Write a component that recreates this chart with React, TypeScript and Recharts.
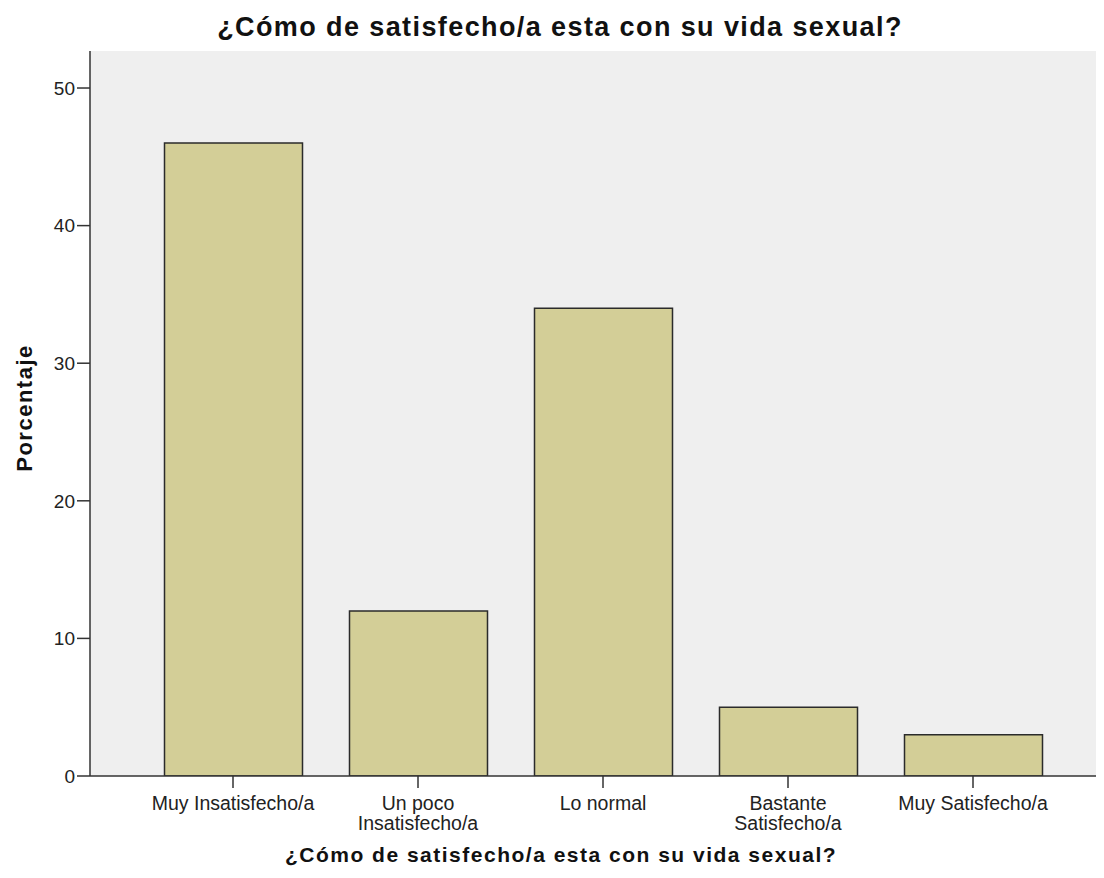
import { BarChart, Bar, XAxis, YAxis, CartesianGrid } from "recharts";

const categories = [
  "Muy Insatisfecho/a",
  "Un poco\nInsatisfecho/a",
  "Lo normal",
  "Bastante\nSatisfecho/a",
  "Muy Satisfecho/a",
];
const percentages = [46, 12, 34, 5, 3];
const yTicks = [0, 10, 20, 30, 40, 50];

const title = "¿Cómo de satisfecho/a esta con su vida sexual?";
const yTitle = "Porcentaje";

const data = categories.map((c, i) => ({ name: c, value: percentages[i] }));

const FONT = "'Liberation Sans', Arial, sans-serif";

function CategoryTick(props: any) {
  const { x, y, payload } = props;
  const lines = String(payload.value).split("\n");
  return (
    <text
      x={x}
      y={y}
      textAnchor="middle"
      fill="#222"
      fontSize={19.5}
      fontFamily={FONT}
    >
      {lines.map((line: string, i: number) => (
        <tspan key={i} x={x} dy={20}>
          {line}
        </tspan>
      ))}
    </text>
  );
}

export default function App() {
  return (
    <div style={{ margin: -8, position: "relative", width: 1104, height: 878, background: "#fff" }}>
      <div
        style={{
          position: "absolute",
          left: 0,
          width: 1120,
          top: 12,
          textAlign: "center",
          fontFamily: FONT,
          fontWeight: "bold",
          fontSize: 27,
          letterSpacing: 1.4,
          color: "#111",
        }}
      >
        {title}
      </div>
      <BarChart
        width={1104}
        height={878}
        data={data}
        margin={{ top: 51, right: 0, bottom: 0, left: 0 }}
      >
        <CartesianGrid fill="#efefef" stroke="none" />
        <XAxis
          dataKey="name"
          padding={{ left: 50.5, right: 38.5 }}
          axisLine={{ stroke: "#333", strokeWidth: 1.5 }}
          tickLine={{ stroke: "#333", strokeWidth: 1.5 }}
          tickSize={12}
          tick={<CategoryTick />}
          interval={0}
          height={102}
          label={{
            content: () => (
              <text
                x={561}
                y={862}
                textAnchor="middle"
                fontFamily={FONT}
                fontWeight="bold"
                fontSize={21}
                letterSpacing={1.5}
                fill="#111"
              >
                {title}
              </text>
            ),
          }}
        />
        <XAxis
          xAxisId="top"
          dataKey="name"
          orientation="top"
          height={0}
          tick={false}
          tickLine={false}
          axisLine={{ stroke: "#808080", strokeWidth: 2 }}
        />
        <YAxis
          width={90}
          domain={[0, 52.69]}
          ticks={yTicks}
          allowDataOverflow
          axisLine={{ stroke: "#333", strokeWidth: 1.5 }}
          tickLine={{ stroke: "#333", strokeWidth: 1.5 }}
          tickSize={13}
          tickMargin={2}
          tick={{ fill: "#222", fontSize: 19, fontFamily: FONT }}
          label={{
            content: () => (
              <text
                x={0}
                y={0}
                transform="translate(32, 408) rotate(-90)"
                textAnchor="middle"
                fontFamily={FONT}
                fontWeight="bold"
                fontSize={22}
                letterSpacing={1.5}
                fill="#111"
              >
                {yTitle}
              </text>
            ),
          }}
        />
        <Bar
          dataKey="value"
          fill="#d3ce97"
          stroke="#2b2b2b"
          strokeWidth={1.5}
          barSize={138}
          isAnimationActive={false}
        />
      </BarChart>
    </div>
  );
}
